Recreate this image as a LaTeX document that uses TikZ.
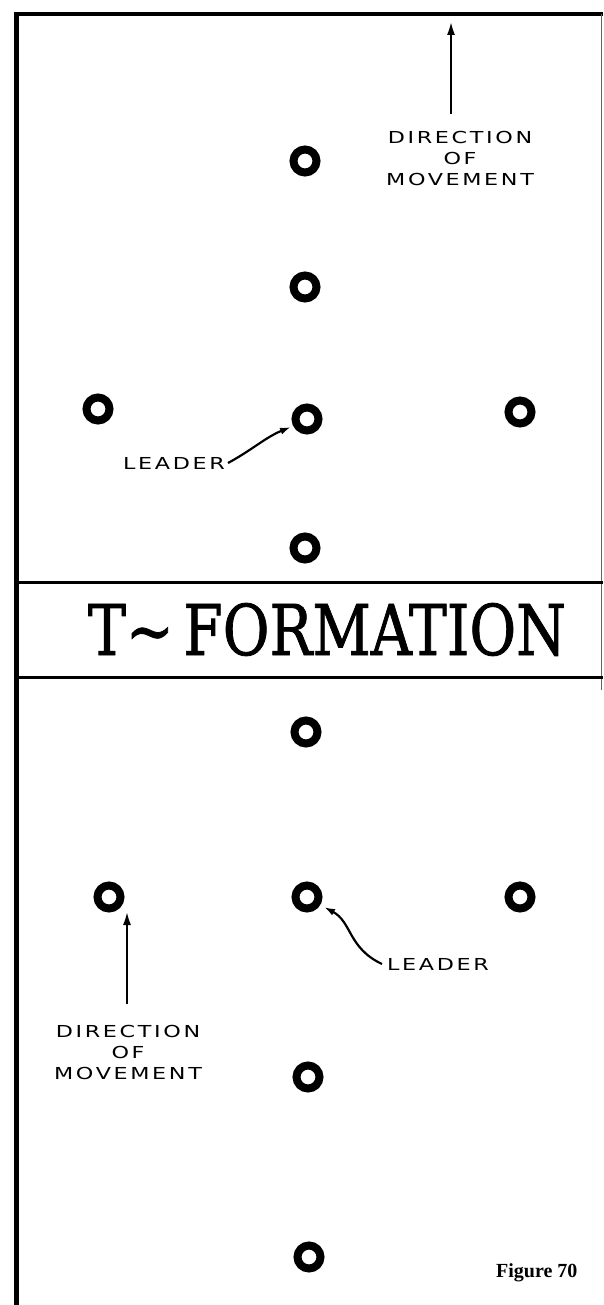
\documentclass[tikz,border=0pt]{standalone}
\usepackage{fontspec}
\usetikzlibrary{arrows.meta}
\newfontfamily\handfont[FakeStretch=1.35,LetterSpace=16]{DejaVu Sans}
\newfontfamily\titlefont[FakeBold=1.2]{DejaVu Serif}
\newfontfamily\capfont{Liberation Serif}
\tikzset{
  ring/.style={circle, draw=black, line width=8pt, minimum size=23pt, inner sep=0pt},
  hand/.style={font=\handfont\fontsize{16.5}{21}\selectfont, align=center, inner sep=0pt, text=black},
  border/.style={line width=5pt, black},
  bandline/.style={line width=3pt, black},
  arr/.style={line width=2.5pt, -{Latex[length=14pt,width=8pt]}},
  leadarr/.style={line width=2.2pt, -{Latex[length=11pt,width=7pt]}}
}
\begin{document}
\begin{tikzpicture}[x=1pt,y=-1pt]
\useasboundingbox (0,0) rectangle (603,1305);
% frame
\draw[border] (16,12) -- (16,1305);
\draw[line width=4pt] (14,14) -- (603,14);
\draw[line width=1pt, black!60] (601,14) -- (601,690);
% title band
\draw[bandline] (16,582) -- (603,582);
\draw[bandline] (16,677) -- (603,677);
\node[anchor=base, inner sep=0pt] (title) at (327,655)
  {\resizebox{478pt}{52pt}{\titlefont T\textasciitilde\,FORMATION}};
% upper formation
\node[ring] (u1) at (305,161) {};
\node[ring] (u2) at (305,287) {};
\node[ring] (ul) at (98,409) {};
\node[ring] (uc) at (307,419) {};
\node[ring] (ur) at (520,412) {};
\node[ring] (u4) at (305,548) {};
% upper direction of movement
\node[hand] (dirA) at (460,158) {DIRECTION\\OF\\MOVEMENT};
\coordinate (dirAtail) at (451,114);
\coordinate (dirAtip) at (451,21);
\draw[arr] (dirAtail) -- (dirAtip);
% upper leader
\node[hand, anchor=west] (leadA) at (123,463) {LEADER};
\coordinate (leadAtip) at (291,427);
\draw[leadarr] ([xshift=3pt]leadA.east) .. controls (252,450) and (266,437) .. (leadAtip);
% lower formation
\node[ring] (l1) at (306,732) {};
\node[ring] (ll) at (109,897) {};
\node[ring] (lc) at (307,897) {};
\node[ring] (lr) at (520,897) {};
\node[ring] (l3) at (308,1077) {};
\node[ring] (l4) at (309,1257) {};
% lower leader
\node[hand, anchor=west] (leadB) at (387,964) {LEADER};
\coordinate (leadBtip) at (324,907);
\draw[leadarr] ([xshift=-5pt]leadB.west) .. controls (348,948) and (352,922) .. (leadBtip);
% lower direction of movement
\node[hand] (dirB) at (128,1052) {DIRECTION\\OF\\MOVEMENT};
\coordinate (dirBtail) at (127,1004);
\coordinate (dirBtip) at (127,911);
\draw[arr] (dirBtail) -- (dirBtip);
% caption
\node[anchor=base west, inner sep=0pt, font=\capfont\bfseries\fontsize{20}{22}\selectfont] (cap) at (496,1277) {Figure 70};
\end{tikzpicture}
\end{document}
